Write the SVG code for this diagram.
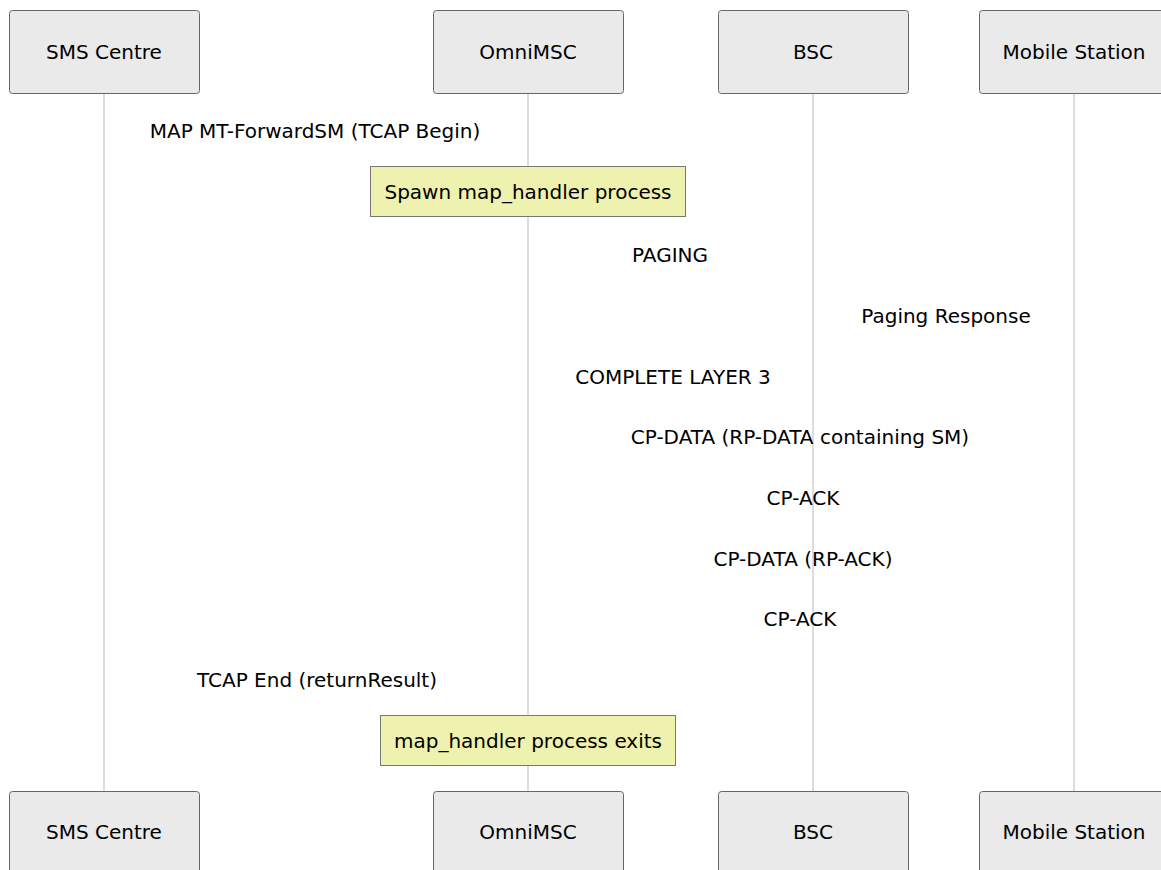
<svg xmlns="http://www.w3.org/2000/svg" width="1161" height="870" viewBox="0 0 1161 870">
<style>
text{font-family:"DejaVu Sans","Liberation Sans",sans-serif;font-size:20px;fill:#000;text-anchor:middle;dominant-baseline:central}
.actor{fill:#eaeaea;stroke:#666;stroke-width:1}
.life{stroke:#bbb;stroke-width:1}
.note{fill:#eef2ae;stroke:#777;stroke-width:1}
</style>
<rect width="1161" height="870" fill="#fff"/>
<g id="lifelines">
<line class="life" x1="104" y1="93" x2="104" y2="791"/>
<line class="life" x1="528" y1="93" x2="528" y2="791"/>
<line class="life" x1="813" y1="93" x2="813" y2="791"/>
<line class="life" x1="1074" y1="93" x2="1074" y2="791"/>
</g>
<g id="sms-top"><rect class="actor" x="9.5" y="10.5" width="190" height="83" rx="3"/><text x="104" y="52">SMS Centre</text></g>
<g id="omni-top"><rect class="actor" x="433.5" y="10.5" width="190" height="83" rx="3"/><text x="528" y="52">OmniMSC</text></g>
<g id="bsc-top"><rect class="actor" x="718.5" y="10.5" width="190" height="83" rx="3"/><text x="813" y="52">BSC</text></g>
<g id="ms-top"><rect class="actor" x="979.5" y="10.5" width="190" height="83" rx="3"/><text x="1074" y="52">Mobile Station</text></g>
<g id="sms-bottom"><rect class="actor" x="9.5" y="791.5" width="190" height="83" rx="3"/><text x="104" y="832">SMS Centre</text></g>
<g id="omni-bottom"><rect class="actor" x="433.5" y="791.5" width="190" height="83" rx="3"/><text x="528" y="832">OmniMSC</text></g>
<g id="bsc-bottom"><rect class="actor" x="718.5" y="791.5" width="190" height="83" rx="3"/><text x="813" y="832">BSC</text></g>
<g id="ms-bottom"><rect class="actor" x="979.5" y="791.5" width="190" height="83" rx="3"/><text x="1074" y="832">Mobile Station</text></g>
<g id="note-spawn"><rect class="note" x="370.5" y="166.5" width="315" height="50"/><text x="528" y="192">Spawn map_handler process</text></g>
<g id="note-exit"><rect class="note" x="380.5" y="715.5" width="295" height="50"/><text x="528" y="741">map_handler process exits</text></g>
<g id="connectors">
<text x="315" y="131">MAP MT-ForwardSM (TCAP Begin)</text>
<text x="670" y="255">PAGING</text>
<text x="946" y="316">Paging Response</text>
<text x="673" y="377">COMPLETE LAYER 3</text>
<text x="800" y="437">CP-DATA (RP-DATA containing SM)</text>
<text x="803" y="498">CP-ACK</text>
<text x="803" y="559">CP-DATA (RP-ACK)</text>
<text x="800" y="619">CP-ACK</text>
<text x="317" y="680">TCAP End (returnResult)</text>
</g>
</svg>
